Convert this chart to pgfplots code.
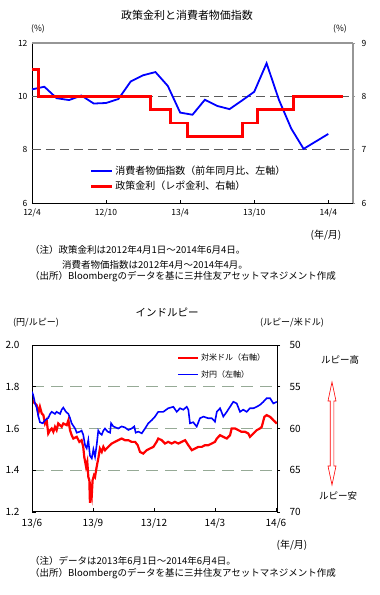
\documentclass[border=0pt]{standalone}
\usepackage{fontspec}
\setmainfont{Noto Sans CJK JP}
\usepackage{pgfplots}
\pgfplotsset{compat=1.18}
\definecolor{gridA}{RGB}{90,90,90}
\definecolor{gridB}{RGB}{150,170,150}
\definecolor{frameA}{RGB}{150,150,150}
\newcommand{\fs}[1]{\fontsize{#1}{#1}\selectfont}
\begin{document}
\begin{tikzpicture}
\path[use as bounding box] (0pt,0pt) rectangle (380pt,595pt);
% ---------------- Chart 1 ----------------
\begin{axis}[
  at={(32pt,392pt)}, anchor=south west, scale only axis,
  width=321pt, height=160pt,
  xmin=0, xmax=26, ymin=6, ymax=12,
  axis x line*=bottom, axis y line*=left,
  axis line style={-, black, line width=0.8pt},
  xtick={0,6,12,18,24}, xticklabels={12/4,12/10,13/4,13/10,14/4},
  ytick={6,8,10,12}, yticklabels={6,8,10,12},
  tick align=inside, major tick length=3pt, tick style={black, line width=0.8pt},
  ticklabel style={font=\fs{8.5}},
  xticklabel style={yshift=-2pt},
  yticklabel style={xshift=-1pt},
  extra y ticks={8,10}, extra y tick labels={},
  extra y tick style={grid=major, major tick length=0pt},
  major grid style={gridA, dash pattern=on 9pt off 5pt, line width=0.8pt},
]
\addplot[blue, line width=1.8pt] coordinates {
(0,10.26) (1,10.36) (2,9.93) (3,9.86) (4,10.03) (5,9.73) (6,9.75) (7,9.90)
(8,10.56) (9,10.79) (10,10.91) (11,10.39) (12,9.39) (13,9.31) (14,9.87)
(15,9.64) (16,9.52) (17,9.84) (18,10.17) (19,11.24) (20,9.87) (21,8.79)
(22,8.03) (23,8.31) (24,8.59)};
\end{axis}
\begin{axis}[
  at={(32pt,392pt)}, anchor=south west, scale only axis,
  width=321pt, height=160pt,
  xmin=0, xmax=26, ymin=6, ymax=9,
  axis x line*=top, axis y line*=right,
  axis line style={-, frameA, line width=1.5pt},
  xtick=\empty, ytick={6,7,8,9}, yticklabels={6,7,8,9},
  tick align=outside, major tick length=2pt, tick style={frameA, line width=0.8pt},
  ticklabel style={font=\fs{8.5}},
  yticklabel style={xshift=3pt},
  legend style={at={(rel axis cs:0.171,0.25)}, anchor=north west, draw=none, fill=none,
    font=\fs{10}, row sep=3pt, nodes={inner xsep=1.5pt, inner ysep=1pt}},
  legend cell align=left,
  legend image code/.code={\draw[#1] (0pt,0pt) -- (21pt,0pt);},
]
\addlegendimage{blue, line width=1.8pt}
\addlegendentry{消費者物価指数（前年同月比、左軸）}
\addplot[red, line width=2.8pt, const plot] coordinates {
(0,8.5) (0.51,8.0) (9.57,7.75) (11.19,7.5) (12.57,7.25) (17.03,7.5) (18.25,7.75) (21.17,8.0) (25.2,8.0)};
\addlegendentry{政策金利（レポ金利、右軸）}
\end{axis}
\node[font=\fs{11}] at (187pt,580pt) {政策金利と消費者物価指数};
\node[font=\fs{8.5}] at (38pt,566pt) {(\%)};
\node[font=\fs{8.5}] at (340pt,566pt) {(\%)};
\node[font=\fs{10}] at (326pt,360pt) {(年/月)};
\node[font=\fs{9.5}, anchor=west, inner sep=0pt] at (30pt,345pt) {（注）政策金利は2012年4月1日～2014年6月4日。};
\node[font=\fs{9.5}, anchor=west, inner sep=0pt] at (62pt,330pt) {消費者物価指数は2012年4月～2014年4月。};
\node[font=\fs{9.5}, anchor=west, inner sep=0pt] at (30pt,318pt) {（出所）Bloombergのデータを基に三井住友アセットマネジメント作成};
% ---------------- Chart 2 ----------------
\begin{axis}[
  at={(32pt,83pt)}, anchor=south west, scale only axis,
  width=245pt, height=167pt,
  xmin=0, xmax=12.05, ymin=50, ymax=70, y dir=reverse,
  axis x line*=top, axis y line*=right,
  axis line style={-, black, line width=1pt},
  xtick=\empty, ytick={50,55,60,65,70}, yticklabels={50,55,60,65,70},
  tick align=outside, major tick length=3pt, tick style={black, line width=0.8pt},
  ticklabel style={font=\fs{10}},
  yticklabel style={xshift=6pt},
  extra y ticks={55,60,65}, extra y tick labels={},
  extra y tick style={grid=major},
  major grid style={gridB, dash pattern=on 12pt off 7pt, line width=0.9pt},
]
\addplot[red, line width=2.2pt] coordinates {
(0,56.4) (0.06,56.8) (0.15,57.0) (0.23,57.2) (0.31,58.2) (0.39,57.4) (0.48,58.2)
(0.56,58.4) (0.64,59.4) (0.72,59.0) (0.80,60.6) (0.89,60.2) (0.97,60.0) (1.05,60.4)
(1.13,59.8) (1.21,60.2) (1.29,59.4) (1.46,59.8) (1.54,59.4) (1.71,59.6) (1.79,59.0)
(1.87,60.2) (1.95,60.8) (2.03,61.2) (2.20,61.0) (2.33,61.6) (2.44,61.4) (2.52,62.2)
(2.57,63.4) (2.66,64.6) (2.72,64.0) (2.77,65.8) (2.82,66.2) (2.85,68.9) (2.90,67.4)
(2.94,68.0) (2.98,66.2) (3.05,65.6) (3.10,65.8) (3.18,64.6) (3.26,63.6) (3.34,62.4)
(3.43,62.8) (3.51,62.2) (3.59,62.6) (3.75,62.2) (3.92,61.8) (4.08,61.6) (4.24,61.4)
(4.41,61.2) (4.57,61.4) (4.74,61.4) (4.90,61.6) (5.07,61.6) (5.20,62.0) (5.31,62.8)
(5.47,63.0) (5.64,62.6) (5.80,62.4) (5.97,62.2) (6.13,61.6) (6.21,61.2) (6.38,61.4)
(6.54,61.8) (6.70,61.6) (6.87,61.8) (7.03,61.6) (7.20,61.8) (7.36,61.6) (7.53,61.4)
(7.69,62.0) (7.86,62.6) (8.02,62.4) (8.18,62.2) (8.35,62.2) (8.51,62.0) (8.67,62.0)
(8.84,61.8) (9.00,61.6) (9.09,61.2) (9.25,60.8) (9.41,61.0) (9.58,61.2) (9.74,60.8)
(9.82,60.0) (9.99,60.0) (10.15,60.2) (10.31,60.4) (10.48,60.4) (10.64,60.6) (10.72,61.0)
(10.89,60.6) (11.05,60.2) (11.21,60.0) (11.30,59.8) (11.43,58.6) (11.54,58.4) (11.71,58.6)
(11.87,59.0) (12.04,59.4)};
\end{axis}
\begin{axis}[
  at={(32pt,83pt)}, anchor=south west, scale only axis,
  width=245pt, height=167pt,
  xmin=0, xmax=12.05, ymin=1.2, ymax=2.0,
  axis x line*=bottom, axis y line*=left,
  axis line style={-, black, line width=1pt},
  xtick={0,3,6,9,12}, xticklabels={13/6,13/9,13/12,14/3,14/6},
  ytick={1.2,1.4,1.6,1.8,2.0}, yticklabels={1.2,1.4,1.6,1.8,2.0},
  tick align=inside, major tick length=4pt, tick style={black, line width=0.8pt},
  ticklabel style={font=\fs{10}},
  xticklabel style={yshift=-3pt},
  yticklabel style={xshift=-9pt},
  legend style={at={(rel axis cs:0.58,0.965)}, anchor=north west, draw=none, fill=none,
    font=\fs{8}, row sep=6pt, nodes={inner xsep=1.5pt, inner ysep=1pt}},
  legend cell align=left,
  legend image code/.code={\draw[#1] (0pt,0pt) -- (20pt,0pt);},
]
\addlegendimage{red, line width=2.2pt}
\addlegendentry{対米ドル（右軸）}
\addplot[blue, line width=1.6pt] coordinates {
(0,1.776) (0.06,1.76) (0.15,1.72) (0.23,1.70) (0.31,1.66) (0.39,1.63) (0.53,1.625)
(0.64,1.64) (0.80,1.65) (0.89,1.67) (0.97,1.68) (1.13,1.67) (1.21,1.68) (1.38,1.67)
(1.46,1.69) (1.54,1.70) (1.67,1.68) (1.79,1.67) (1.87,1.65) (1.95,1.625) (2.12,1.60)
(2.20,1.58) (2.36,1.585) (2.44,1.59) (2.52,1.57) (2.61,1.52) (2.69,1.505) (2.77,1.545)
(2.85,1.47) (2.94,1.457) (3.02,1.50) (3.10,1.465) (3.18,1.52) (3.26,1.59) (3.34,1.577)
(3.43,1.57) (3.51,1.59) (3.59,1.60) (3.72,1.585) (3.84,1.58) (3.89,1.625) (4.00,1.61)
(4.24,1.60) (4.41,1.61) (4.57,1.605) (4.74,1.593) (4.90,1.60) (5.03,1.61) (5.10,1.58)
(5.23,1.585) (5.40,1.577) (5.56,1.60) (5.72,1.625) (5.89,1.64) (6.05,1.657) (6.21,1.68)
(6.46,1.68) (6.70,1.697) (6.95,1.704) (7.12,1.68) (7.28,1.697) (7.44,1.69) (7.61,1.704)
(7.69,1.69) (7.77,1.625) (7.93,1.63) (8.10,1.609) (8.26,1.649) (8.43,1.657) (8.67,1.649)
(8.84,1.649) (9.00,1.633) (9.09,1.68) (9.25,1.697) (9.41,1.657) (9.58,1.68) (9.74,1.704)
(9.90,1.728) (10.07,1.72) (10.23,1.68) (10.39,1.69) (10.56,1.68) (10.72,1.697)
(10.89,1.697) (11.05,1.704) (11.21,1.713) (11.38,1.728) (11.54,1.745) (11.71,1.745)
(11.87,1.72) (12.04,1.728)};
\addlegendentry{対円（左軸）}
\end{axis}
\node[font=\fs{10.5}] at (167pt,283pt) {インドルピー};
\node[font=\fs{9}] at (36pt,272pt) {(円/ルピー)};
\node[font=\fs{9}] at (292pt,272pt) {(ルピー/米ドル)};
\node[font=\fs{9.5}] at (340pt,235pt) {ルピー高};
\node[font=\fs{9.5}] at (338pt,99pt) {ルピー安};
\draw[red, fill=white, line width=0.6pt] (332pt,213pt) -- (336pt,194pt) -- (333.8pt,194pt) -- (333.8pt,129pt)
  -- (336pt,129pt) -- (332pt,110pt) -- (328pt,129pt) -- (330.2pt,129pt) -- (330.2pt,194pt) -- (328pt,194pt) -- cycle;
\node[font=\fs{10}] at (292pt,50pt) {(年/月)};
\node[font=\fs{9.5}, anchor=west, inner sep=0pt] at (30pt,34pt) {（注）データは2013年6月1日～2014年6月4日。};
\node[font=\fs{9.5}, anchor=west, inner sep=0pt] at (30pt,21pt) {（出所）Bloombergのデータを基に三井住友アセットマネジメント作成};
\end{tikzpicture}
\end{document}
